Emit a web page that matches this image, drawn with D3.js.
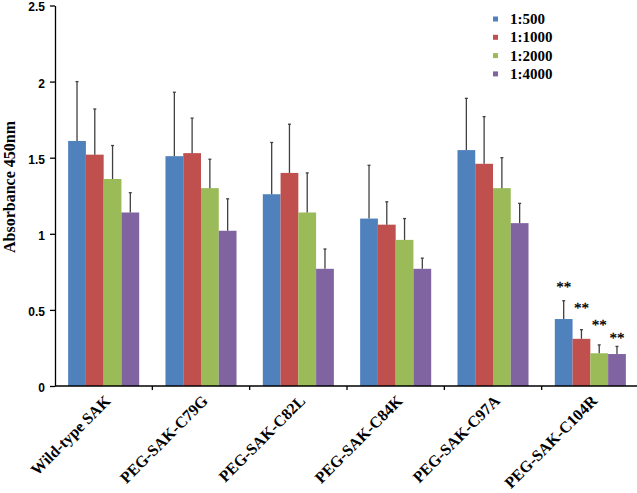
<!DOCTYPE html>
<html><head><meta charset="utf-8">
<script src="https://cdn.jsdelivr.net/npm/d3@7"></script>
<style>body{margin:0;background:#fff}</style>
</head><body>
<svg id="c" width="637" height="493"></svg>
<script>
const categories = ["Wild-type SAK","PEG-SAK-C79G","PEG-SAK-C82L","PEG-SAK-C84K","PEG-SAK-C97A","PEG-SAK-C104R"];
const seriesNames = ["1:500","1:1000","1:2000","1:4000"];
const colors = ["#4F81BD","#C0504D","#9BBB59","#8064A2"];
const values = [
  [1.61,1.51,1.26,1.10,1.55,0.44],
  [1.52,1.53,1.40,1.06,1.46,0.31],
  [1.36,1.30,1.14,0.96,1.30,0.215],
  [1.14,1.02,0.77,0.77,1.07,0.21]
];
const errTops = [
  [2.00,1.93,1.60,1.45,1.89,0.56],
  [1.82,1.76,1.72,1.21,1.77,0.37],
  [1.58,1.49,1.40,1.10,1.50,0.27],
  [1.27,1.23,0.90,0.84,1.20,0.26]
];
const starGroup = "PEG-SAK-C104R";
const starLevels = [0.62,0.48,0.37,0.28];
const yTicks = [0,0.5,1,1.5,2,2.5];

(function(){
const svg = d3.select("#c");
const mLeft = 55, mRight = 639, mTop = 5.5, mBottom = 386;
const x = d3.scaleBand().domain(categories).range([mLeft,mRight]).paddingInner(0.27).paddingOuter(0.135);
const xs = d3.scaleBand().domain(seriesNames).range([0,x.bandwidth()]);
const y = d3.scaleLinear().domain([0,2.5]).range([mBottom,mTop]);

seriesNames.forEach((s,si)=>{
  const g = svg.append("g");
  g.selectAll("rect").data(categories).join("rect")
    .attr("x",c=>x(c)+xs(s)).attr("width",xs.bandwidth())
    .attr("y",(c,i)=>y(values[si][i])).attr("height",(c,i)=>y(0)-y(values[si][i]))
    .attr("fill",colors[si]);
  g.selectAll("line.e").data(categories).join("line").attr("class","e")
    .attr("x1",c=>x(c)+xs(s)+xs.bandwidth()/2).attr("x2",c=>x(c)+xs(s)+xs.bandwidth()/2)
    .attr("y1",(c,i)=>y(values[si][i])).attr("y2",(c,i)=>y(errTops[si][i]))
    .attr("stroke","#404040").attr("stroke-width",1.3);
  g.selectAll("line.cap").data(categories).join("line").attr("class","cap")
    .attr("x1",c=>x(c)+xs(s)+xs.bandwidth()/2-1.5).attr("x2",c=>x(c)+xs(s)+xs.bandwidth()/2+1.5)
    .attr("y1",(c,i)=>y(errTops[si][i])).attr("y2",(c,i)=>y(errTops[si][i]))
    .attr("stroke","#404040").attr("stroke-width",1.3);
  svg.append("text").attr("x",x(starGroup)+xs(s)+xs.bandwidth()/2).attr("y",y(starLevels[si]))
    .attr("text-anchor","middle").attr("font-family","Liberation Serif").attr("font-size",15)
    .attr("fill","#000").attr("stroke","#000").attr("stroke-width",0.3).text("**");
});

const ya = svg.append("g").attr("transform",`translate(${mLeft},0)`)
  .call(d3.axisLeft(y).tickValues(yTicks).tickFormat(d=>d).tickSize(5).tickSizeOuter(0));
ya.select(".domain").attr("stroke","#000").attr("stroke-width",1.3);
ya.selectAll(".tick line").attr("stroke","#000").attr("stroke-width",1.3);
ya.selectAll("text").attr("font-family","Liberation Sans").attr("font-weight","bold").attr("font-size",12).attr("fill","#000").attr("dx",-2).attr("dy","0.45em");

svg.append("line").attr("x1",mLeft).attr("x2",637).attr("y1",mBottom).attr("y2",mBottom).attr("stroke","#000").attr("stroke-width",1.5);
const bounds = categories.slice(1).map(c=>x(c)-x.step()*x.paddingInner()/2);
svg.selectAll("line.xt").data(bounds).join("line").attr("class","xt")
  .attr("x1",d=>d).attr("x2",d=>d).attr("y1",mBottom).attr("y2",mBottom+4).attr("stroke","#000").attr("stroke-width",1.3);
svg.selectAll("text.xl").data(categories).join("text").attr("class","xl")
  .attr("transform",c=>`translate(${x(c)+x.bandwidth()/2},${mBottom+8}) rotate(-45)`)
  .attr("text-anchor","end").attr("dy","0.7em")
  .attr("font-family","Liberation Serif").attr("font-weight","bold").attr("font-size",16).text(c=>c);

svg.append("text").attr("transform","translate(15,187) rotate(-90)").attr("text-anchor","middle")
  .attr("font-family","Liberation Serif").attr("font-weight","bold").attr("font-size",16).text("Absorbance 450nm");

const lg = svg.append("g");
seriesNames.forEach((s,i)=>{
  lg.append("rect").attr("x",493).attr("y",16.5+i*18.3).attr("width",5).attr("height",5).attr("fill",colors[i]);
  lg.append("text").attr("x",510).attr("y",24+i*18.3).attr("font-family","Liberation Serif").attr("font-weight","bold").attr("font-size",15).text(s);
});
})();
</script>
</body></html>
